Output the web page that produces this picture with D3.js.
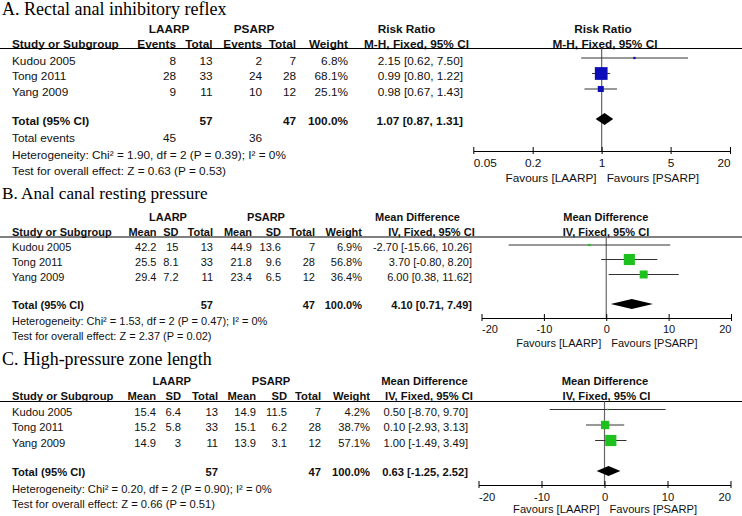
<!DOCTYPE html>
<html><head><meta charset="utf-8">
<script src="https://cdn.jsdelivr.net/npm/d3@7"></script>
<style>body{margin:0;background:#fff}svg{display:block}</style>
</head><body><svg id="c" width="742" height="516"></svg>
<script>
// ---------- DATA ----------
const studies = ["Kudou 2005", "Tong 2011", "Yang 2009"];

// A. Rectal anal inhibitory reflex (Risk Ratio)
const aTitle = "A. Rectal anal inhibitory reflex";
const aLaarpEvents = [8, 28, 9];
const aLaarpTotal = [13, 33, 11];
const aPsarpEvents = [2, 24, 10];
const aPsarpTotal = [7, 28, 12];
const aWeight = [6.8, 68.1, 25.1];
const aEst = [2.15, 0.99, 0.98];
const aLo = [0.62, 0.80, 0.67];
const aHi = [7.50, 1.22, 1.43];
const aTotals = [57, 47];
const aTotalEvents = [45, 36];
const aPooled = [1.07, 0.87, 1.31];
const aHet = "Heterogeneity: Chi² = 1.90, df = 2 (P = 0.39); I² = 0%";
const aTest = "Test for overall effect: Z = 0.63 (P = 0.53)";
const aTicks = [0.05, 0.2, 1, 5, 20];
const aTickLabels = ["0.05", "0.2", "1", "5", "20"];

// B. Anal canal resting pressure (Mean Difference)
const bTitle = "B. Anal canal resting pressure";
const bMeanL = [42.2, 25.5, 29.4];
const bSdL = [15, 8.1, 7.2];
const bNL = [13, 33, 11];
const bMeanP = [44.9, 21.8, 23.4];
const bSdP = [13.6, 9.6, 6.5];
const bNP = [7, 28, 12];
const bWeight = [6.9, 56.8, 36.4];
const bEst = [-2.70, 3.70, 6.00];
const bLo = [-15.66, -0.80, 0.38];
const bHi = [10.26, 8.20, 11.62];
const bTotals = [57, 47];
const bPooled = [4.10, 0.71, 7.49];
const bHet = "Heterogeneity: Chi² = 1.53, df = 2 (P = 0.47); I² = 0%";
const bTest = "Test for overall effect: Z = 2.37 (P = 0.02)";

// C. High-pressure zone length (Mean Difference)
const cTitle = "C. High-pressure zone length";
const cMeanL = [15.4, 15.2, 14.9];
const cSdL = [6.4, 5.8, 3];
const cNL = [13, 33, 11];
const cMeanP = [14.9, 15.1, 13.9];
const cSdP = [11.5, 6.2, 3.1];
const cNP = [7, 28, 12];
const cWeight = [4.2, 38.7, 57.1];
const cEst = [0.50, 0.10, 1.00];
const cLo = [-8.70, -2.93, -1.49];
const cHi = [9.70, 3.13, 3.49];
const cTotals = [57, 47];
const cPooled = [0.63, -1.25, 2.52];
const cHet = "Heterogeneity: Chi² = 0.20, df = 2 (P = 0.90); I² = 0%";
const cTest = "Test for overall effect: Z = 0.66 (P = 0.51)";

const mdTicks = [-20, -10, 0, 10, 20];
const mdTickLabels = ["-20", "-10", "0", "10", "20"];
const favLeft = "Favours [LAARP]";
const favRight = "Favours [PSARP]";

// ---------- HELPERS ----------
const fmt2 = d3.format(".2f");
const ciText = (e, l, h) => `${fmt2(e).replace("−","-")} [${fmt2(l).replace("−","-")}, ${fmt2(h).replace("−","-")}]`;
const pct = w => w.toFixed(1) + "%";
const SANS = "'Liberation Sans', Arial, Helvetica, sans-serif";
const SERIF = "'Liberation Serif', 'Times New Roman', serif";
const svg = d3.select("#c");
svg.append("rect").attr("width", 742).attr("height", 516).attr("fill", "#fff");
const sizeScale = d3.scalePow().exponent(0.75).domain([0, 100]).range([0, 17]);

function drawPanel(p) {
  const g = svg.append("g");
  const T = (x, y, txt, anchor, bold) => g.append("text")
    .attr("x", x).attr("y", y).attr("dy", "0.35em")
    .attr("text-anchor", anchor || "start")
    .attr("font-family", SANS).attr("font-size", p.fs)
    .attr("font-weight", bold ? "bold" : "normal")
    .attr("fill", "#111").text(txt);

  g.append("text").attr("x", 2).attr("y", p.titleY)
    .attr("font-family", SERIF).attr("font-size", p.titleSize)
    .attr("fill", "#000").text(p.title);

  // headers
  const h1 = p.L - 20, h2 = p.L - 5;
  T(p.grpX[0], h1, "LAARP", "middle", true);
  T(p.grpX[1], h1, "PSARP", "middle", true);
  T(p.effX[0], h1, p.effName, "middle", true);
  T(p.forX[0], h1, p.effName, "middle", true);
  T(12, h2, "Study or Subgroup", "start", true);
  p.colNames.forEach((c, i) => T(p.cols[i], h2, c, "end", true));
  T(p.effX[1], h2, p.method, "middle", true);
  T(p.forX[1], h2, p.method, "middle", true);
  g.append("line").attr("x1", 0).attr("x2", 742).attr("y1", p.L).attr("y2", p.L)
    .attr("stroke", "#000").attr("stroke-width", 1);

  // study rows
  p.rows.forEach((r, i) => {
    const y = p.rowY[i];
    T(12, y, studies[i]);
    r.forEach((v, j) => T(p.cols[j], y, v, "end"));
  });
  // total row
  T(12, p.totalY, "Total (95% CI)", "start", true);
  p.totalCells.forEach(([ci, v]) => T(p.cols[ci], p.totalY, v, "end", true));
  // extra rows
  p.extra.forEach((e, i) => {
    T(12, p.extraY[i], e.label);
    (e.cells || []).forEach(([ci, v]) => T(p.cols[ci], p.extraY[i], v, "end"));
  });

  // forest
  const x = p.x;
  const zero = x(p.nullV);
  g.append("line").attr("x1", zero).attr("x2", zero).attr("y1", p.L).attr("y2", p.axisY)
    .attr("stroke", "#666").attr("stroke-width", 1.2);
  p.est.forEach((e, i) => {
    const y = p.rowY[i] - 2.5;
    g.append("line").attr("x1", x(p.lo[i])).attr("x2", x(p.hi[i])).attr("y1", y).attr("y2", y)
      .attr("stroke", "#333").attr("stroke-width", 1);
    const s = Math.max(1.5, sizeScale(p.weight[i]));
    g.append("rect").attr("x", x(e) - s / 2).attr("y", y - s / 2).attr("width", s).attr("height", s)
      .attr("fill", p.color);
  });
  const dy = p.totalY - 1.5, dh = p.diaH / 2;
  g.append("path")
    .attr("d", `M${x(p.pooled[1])},${dy}L${x(p.pooled[0])},${dy - dh}L${x(p.pooled[2])},${dy}L${x(p.pooled[0])},${dy + dh}Z`)
    .attr("fill", "#000");

  // axis
  const ax = g.append("g").attr("transform", `translate(0,${p.axisY})`)
    .call(d3.axisBottom(x).tickValues(p.ticks).tickFormat((d, i) => p.tickLabels[i]).tickSizeOuter(0).tickSizeInner(4));
  ax.select(".domain").attr("stroke", "#000");
  ax.selectAll(".tick line").attr("y1", -4).attr("y2", 3).attr("stroke", "#000");
  const n = p.ticks.length;
  ax.selectAll(".tick text")
    .attr("y", p.tickY - p.axisY).attr("dy", "0.35em")
    .attr("font-family", SANS).attr("font-size", p.fs).attr("fill", "#111")
    .attr("text-anchor", (d, i) => i === 0 ? "start" : (i === n - 1 ? "end" : "middle"));
  T(zero - 5, p.favY, favLeft, "end");
  T(zero + 5, p.favY, favRight, "start");
}

// ---------- PANELS ----------
drawPanel({
  title: aTitle, titleSize: 18, titleY: 15, fs: 11.8, L: 48.5,
  grpX: [169, 254], effX: [406.5, 416.5], forX: [603, 605],
  effName: "Risk Ratio", method: "M-H, Fixed, 95% CI",
  colNames: ["Events", "Total", "Events", "Total", "Weight"],
  cols: [176, 212.5, 262, 296, 348, 463],
  rows: studies.map((s, i) => [aLaarpEvents[i], aLaarpTotal[i], aPsarpEvents[i], aPsarpTotal[i], pct(aWeight[i]), ciText(aEst[i], aLo[i], aHi[i])]),
  rowY: [60.5, 76, 91.5], totalY: 120.5,
  totalCells: [[1, aTotals[0]], [3, aTotals[1]], [4, "100.0%"], [5, ciText(...aPooled)]],
  extra: [{label: "Total events", cells: [[0, aTotalEvents[0]], [2, aTotalEvents[1]]]}, {label: aHet}, {label: aTest}],
  extraY: [138, 154.5, 170.5],
  x: d3.scaleLog().domain([0.05, 20]).range([473.3, 730]), nullV: 1,
  est: aEst, lo: aLo, hi: aHi, weight: aWeight, pooled: aPooled, color: "#0c0cb8", diaH: 12,
  axisY: 151, tickY: 163, favY: 177.5, ticks: aTicks, tickLabels: aTickLabels
});

drawPanel({
  title: bTitle, titleSize: 17.2, titleY: 199, fs: 11, L: 237,
  grpX: [168, 266], effX: [417.5, 431.5], forX: [605.8, 606],
  effName: "Mean Difference", method: "IV, Fixed, 95% CI",
  colNames: ["Mean", "SD", "Total", "Mean", "SD", "Total", "Weight"],
  cols: [156.5, 178.5, 213, 252, 281, 315, 362, 472],
  rows: studies.map((s, i) => [bMeanL[i], bSdL[i], bNL[i], bMeanP[i], bSdP[i], bNP[i], pct(bWeight[i]), ciText(bEst[i], bLo[i], bHi[i])]),
  rowY: [247.5, 262, 277], totalY: 305.5,
  totalCells: [[2, bTotals[0]], [5, bTotals[1]], [6, "100.0%"], [7, ciText(...bPooled)]],
  extra: [{label: bHet}, {label: bTest}],
  extraY: [321, 336.5],
  x: d3.scaleLinear().domain([-20, 20]).range([481.5, 731]), nullV: 0,
  est: bEst, lo: bLo, hi: bHi, weight: bWeight, pooled: bPooled, color: "#1ec01e", diaH: 10,
  axisY: 318, tickY: 329, favY: 343, ticks: mdTicks, tickLabels: mdTickLabels
});

drawPanel({
  title: cTitle, titleSize: 17.9, titleY: 364.5, fs: 11.2, L: 401.5,
  grpX: [171.7, 271], effX: [424.5, 429], forX: [605, 606.5],
  effName: "Mean Difference", method: "IV, Fixed, 95% CI",
  colNames: ["Mean", "SD", "Total", "Mean", "SD", "Total", "Weight"],
  cols: [156, 181, 218, 256, 287, 321, 370, 468],
  rows: studies.map((s, i) => [cMeanL[i], cSdL[i], cNL[i], cMeanP[i], cSdP[i], cNP[i], pct(cWeight[i]), ciText(cEst[i], cLo[i], cHi[i])]),
  rowY: [412, 427.5, 443], totalY: 472.5,
  totalCells: [[2, cTotals[0]], [5, cTotals[1]], [6, "100.0%"], [7, ciText(...cPooled)]],
  extra: [{label: cHet}, {label: cTest}],
  extraY: [489, 504.5],
  x: d3.scaleLinear().domain([-20, 20]).range([478.5, 730.5]), nullV: 0,
  est: cEst, lo: cLo, hi: cHi, weight: cWeight, pooled: cPooled, color: "#1ec01e", diaH: 10,
  axisY: 485, tickY: 497.5, favY: 509.5, ticks: mdTicks, tickLabels: mdTickLabels
});
</script></body></html>
